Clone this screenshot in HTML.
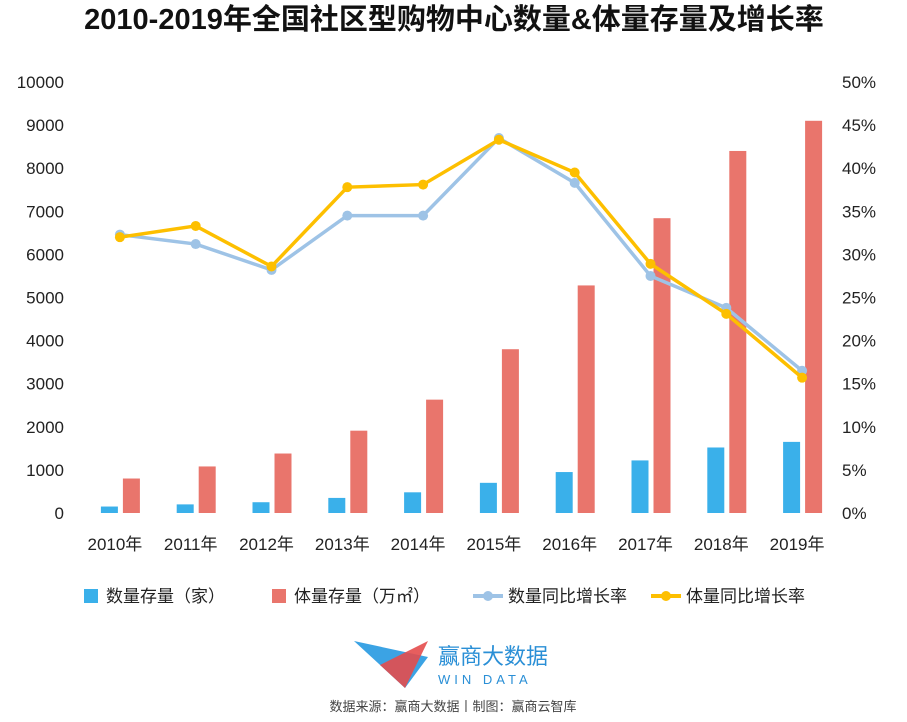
<!DOCTYPE html>
<html><head><meta charset="utf-8"><style>
body{margin:0;background:#fff;width:907px;height:717px;overflow:hidden;font-family:"Liberation Sans","Noto Sans CJK SC",sans-serif}
</style></head><body>
<svg width="907" height="717" id="c" font-family="Liberation Sans, Noto Sans CJK SC, sans-serif">
<text x="454" y="29" text-anchor="middle" font-size="29" font-weight="bold" fill="#111">2010-2019年全国社区型购物中心数量&amp;体量存量及增长率</text>
<g id="plot"></g>
<g font-size="17" fill="#222">
<rect x="84" y="589" width="14" height="14" fill="#3ab0ea"/>
<text x="106" y="602">数量存量（家）</text>
<rect x="272" y="589" width="14" height="14" fill="#e9756c"/>
<text x="294" y="602">体量存量（万㎡）</text>
<line x1="473" y1="596" x2="503" y2="596" stroke="#9ec3e6" stroke-width="4"/>
<circle cx="488" cy="596" r="5" fill="#9ec3e6"/>
<text x="508" y="602">数量同比增长率</text>
<line x1="651" y1="596" x2="681" y2="596" stroke="#fdbf00" stroke-width="4"/>
<circle cx="666" cy="596" r="5" fill="#fdbf00"/>
<text x="686" y="602">体量同比增长率</text>
</g>
<g>
<polygon points="354,641 428,657 405,688" fill="#3ba3e4"/>
<polygon points="428,641 380,665 405,688" fill="#e44c4c" opacity="0.9"/>
<text x="438" y="664" font-size="22" fill="#2a8fd6">赢商大数据</text>
<text x="438" y="684" font-size="13" fill="#2a8fd6" letter-spacing="4">WIN DATA</text>
</g>
<text x="453" y="711" text-anchor="middle" font-size="13" fill="#444">数据来源：赢商大数据丨制图：赢商云智库</text>
</svg>
<script>
const categories=["2010年","2011年","2012年","2013年","2014年","2015年","2016年","2017年","2018年","2019年"];
const countStock=[150,200,250,350,480,700,950,1220,1520,1650];
const areaStock=[800,1080,1380,1910,2630,3800,5280,6840,8400,9100];
const countRate=[32.3,31.2,28.2,34.5,34.5,43.5,38.3,27.5,23.8,16.5];
const areaRate=[32.0,33.3,28.6,37.8,38.1,43.3,39.5,28.9,23.1,15.7];
const leftTicks=[0,1000,2000,3000,4000,5000,6000,7000,8000,9000,10000];
const rightTicks=[0,5,10,15,20,25,30,35,40,45,50];
const NS="http://www.w3.org/2000/svg";
const g=document.getElementById('plot');
const y0=513,y1=82,xs=76,step=75.8;
const yL=v=>y0-(v/10000)*(y0-y1);
const yR=v=>y0-(v/50)*(y0-y1);
const xC=i=>xs+step*(i+0.5);
function mk(t,a){const e=document.createElementNS(NS,t);for(const k in a)e.setAttribute(k,a[k]);g.appendChild(e);return e;}
leftTicks.forEach(v=>{const e=mk('text',{x:64,y:yL(v)+6,'text-anchor':'end','font-size':17,fill:'#222'});e.textContent=v;

});
rightTicks.forEach(v=>{const e=mk('text',{x:842,y:yR(v)+6,'font-size':17,fill:'#222'});e.textContent=v+'%';

});
categories.forEach((c,i)=>{const e=mk('text',{x:xC(i)+1,y:550,'text-anchor':'middle','font-size':17,fill:'#222'});e.textContent=c;


const b=mk('rect',{x:xC(i)-13,y:yL(countStock[i]),width:17,height:y0-yL(countStock[i]),fill:'#3ab0ea'});


const r=mk('rect',{x:xC(i)+9,y:yL(areaStock[i]),width:17,height:y0-yL(areaStock[i]),fill:'#e9756c'});

});
function line(data,col,name){
const p=mk('polyline',{points:data.map((v,i)=>(xC(i)+6)+','+yR(v)).join(' '),fill:'none',stroke:col,'stroke-width':3.5});


data.forEach((v,i)=>{const c=mk('circle',{cx:xC(i)+6,cy:yR(v),r:5,fill:col});

});}
line(countRate,'#9ec3e6','count-rate');
line(areaRate,'#fdbf00','area-rate');
</script>
</body></html>
